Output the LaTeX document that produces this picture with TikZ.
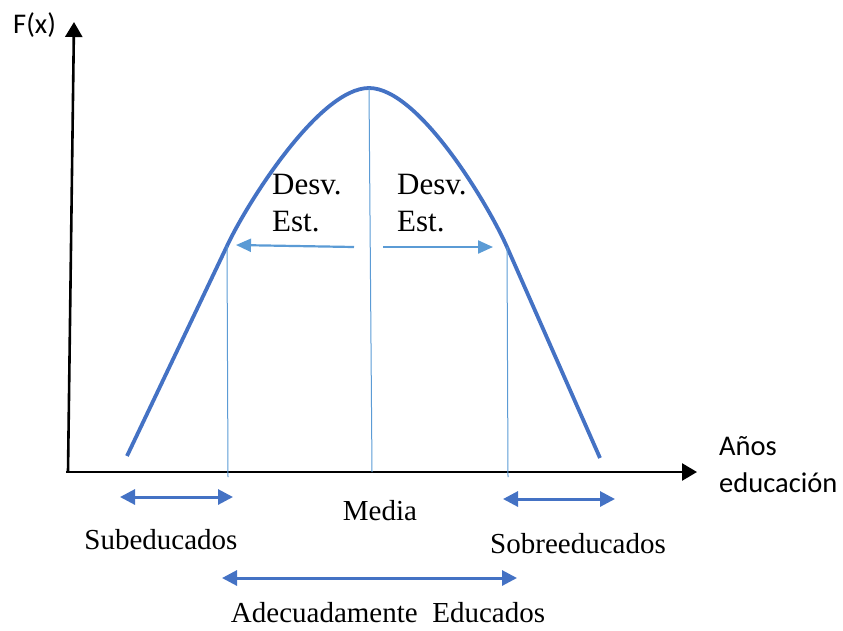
\documentclass[tikz,border=0pt]{standalone}
\usepackage{fontspec}
\setmainfont{Liberation Serif}
\newfontfamily\calibri{Carlito}
\usepackage{tikz}
\usetikzlibrary{arrows.meta}
\definecolor{azul}{HTML}{4472C4}
\definecolor{celeste}{HTML}{5B9BD5}

\begin{document}
\begin{tikzpicture}[x=1pt,y=-1pt]
	\tikzstyle{eje} = [draw=black, line width=2.6pt, -{Triangle[length=15pt,width=17pt]}];
	\tikzstyle{curva} = [draw=azul, line width=3.8pt, line join=round];
	\tikzstyle{guia} = [draw=celeste, line width=1pt];
	\tikzstyle{desv} = [draw=celeste, line width=2.2pt, -{Triangle[length=15pt,width=13pt]}];
	\tikzstyle{rango} = [draw=azul, line width=3pt, {Triangle[length=15pt,width=15pt]}-{Triangle[length=15pt,width=15pt]}];
	\tikzstyle{serif} = [font=\fontsize{29}{37}\selectfont, inner sep=0pt];
	\tikzstyle{serifg} = [font=\fontsize{31}{37}\selectfont, inner sep=0pt];
	\tikzstyle{sans} = [font=\calibri\fontsize{28.5}{37}\selectfont, inner sep=0pt];
	\useasboundingbox (0,0) rectangle (843,630);
	
	% ejes
	\coordinate (O) at (68,472);
	\coordinate (Y) at (74,22);
	\coordinate (X) at (697,472);
	\draw[eje] (O) -- (Y);
	\draw[eje] (66,472) -- (X);
	\node[sans, anchor=base west] (fx) at (13,33) {F(x)};
	\node[sans, anchor=north west, align=left] (anios) at (719,436) {Años\\educación};
	
	% curva
	\coordinate (C0) at (127,456);
	\coordinate (C1) at (227,246);
	\coordinate (C2) at (369,88);
	\coordinate (C3) at (507,247);
	\coordinate (C4) at (600,458);
	\draw[curva] (C0) -- (C1) .. controls (246,205) and (319,88) .. (C2)
		.. controls (419,88) and (489,206) .. (C3) -- (C4);
	\coordinate (B1) at (228,477);
	\coordinate (B2) at (372,472);
	\coordinate (B3) at (508,477);
	\draw[guia] (C1) -- (B1);
	\draw[guia] (C2) -- (B2);
	\draw[guia] (C3) -- (B3);
	
	% desviaciones
	\coordinate (D1) at (354,247);
	\coordinate (D2) at (383,247);
	\path (D1) edge[desv] (236,245);
	\path (D2) edge[desv] (493,247);
	\node[serifg, anchor=north west, align=left] (desvi) at (272,174) {Desv.\\Est.};
	\node[serifg, anchor=north west, align=left] (desvd) at (397,174) {Desv.\\Est.};
	
	% rangos
	\coordinate (S1) at (120,497);
	\coordinate (S2) at (233,497);
	\coordinate (R1) at (503,499);
	\coordinate (R2) at (615,499);
	\coordinate (A1) at (222,578);
	\coordinate (A2) at (517,578);
	\path (S1) edge[rango] (S2);
	\path (R1) edge[rango] (R2);
	\path (A1) edge[rango] (A2);
	
	\node[serif, anchor=base] (media) at (380,520) {Media};
	\node[serif, anchor=base] (sub) at (161,549) {Subeducados};
	\node[serif, anchor=base] (sobre) at (578,553) {Sobreeducados};
	\node[serif, anchor=base] (adec) at (388,622) {Adecuadamente\ \ Educados};
\end{tikzpicture}
\end{document}
